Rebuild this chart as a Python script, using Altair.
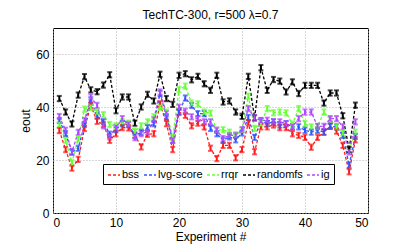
import altair as alt
import pandas as pd

experiments = list(range(1, 49))
bss = [31.2, 24.0, 17.0, 20.3, 32.0, 40.7, 34.7, 33.5, 27.5, 30.0,
       32.3, 32.2, 29.5, 25.0, 29.8, 30.0, 41.3, 33.8, 24.0, 38.2,
       37.0, 33.0, 34.0, 32.6, 24.5, 20.6, 25.6, 25.6, 20.9, 24.0,
       34.2, 23.2, 32.6, 32.6, 33.3, 32.3, 32.3, 30.0, 29.4, 28.6,
       24.9, 28.6, 30.6, 32.8, 31.0, 25.6, 15.6, 27.7]
lvg = [35.0, 30.0, 23.0, 24.5, 33.5, 42.8, 36.8, 34.5, 29.8, 31.5,
       33.8, 33.5, 29.3, 30.5, 32.3, 33.8, 45.2, 36.4, 27.5, 38.2,
       43.5, 40.7, 37.6, 37.6, 32.0, 30.0, 27.5, 28.8, 27.7, 30.3,
       36.1, 28.6, 34.9, 33.8, 34.5, 33.3, 33.8, 32.6, 32.6, 31.3,
       30.6, 31.3, 30.6, 32.8, 32.6, 29.4, 18.1, 29.0]
rrqr = [33.5, 27.5, 19.0, 28.0, 39.3, 40.0, 38.2, 37.2, 33.5, 33.0,
        34.5, 34.0, 31.0, 33.0, 34.5, 36.4, 40.0, 38.2, 28.6, 46.7,
        48.0, 41.6, 41.3, 38.2, 37.8, 31.3, 31.5, 30.6, 29.4, 31.3,
        44.2, 32.0, 33.8, 39.5, 37.9, 38.2, 37.9, 33.6, 39.5, 33.8,
        32.6, 32.6, 38.2, 35.4, 32.6, 30.3, 23.8, 30.6]
randomfs = [43.3, 38.2, 33.7, 44.6, 51.6, 46.6, 45.9, 48.4, 52.3, 38.7,
            43.9, 43.9, 34.0, 40.1, 44.9, 42.4, 52.5, 43.3, 41.1, 52.1,
            52.7, 50.4, 51.7, 48.9, 46.4, 52.1, 42.0, 42.4, 38.2, 36.6,
            51.7, 36.0, 55.0, 46.4, 50.5, 49.9, 45.8, 49.6, 45.2, 48.3,
            48.3, 48.3, 41.6, 45.4, 45.4, 36.8, 24.0, 40.8]
ig = [36.5, 31.3, 23.2, 30.5, 35.0, 43.9, 40.7, 33.0, 28.8, 32.3,
      35.7, 33.5, 28.5, 30.0, 30.6, 35.4, 45.8, 37.6, 27.5, 40.0,
      38.5, 36.4, 35.7, 34.5, 34.5, 31.3, 28.2, 29.4, 29.4, 31.5,
      39.5, 36.0, 35.0, 35.1, 34.5, 34.5, 33.8, 32.6, 35.7, 38.2,
      38.2, 32.8, 32.8, 35.7, 35.7, 32.6, 23.1, 34.5]

series_names = ["bss", "lvg-score", "rrqr", "randomfs", "ig"]
series_colors = ["#ff1a1a", "#2f55ff", "#66ff33", "#000000", "#b048ff"]
series_err = [1.0, 1.0, 1.0, 1.0, 1.0]
x_ticks = [0, 10, 20, 30, 40, 50]
y_ticks = [0, 20, 40, 60]

rows = []
for name, vals, e in zip(series_names, [bss, lvg, rrqr, randomfs, ig], series_err):
    for x, v in zip(experiments, vals):
        rows.append({"exp": x, "value": v, "series": name, "lo": v - e, "hi": v + e})
df = pd.DataFrame(rows)

color_scale = alt.Scale(domain=series_names, range=series_colors)
xenc = alt.X("exp:Q", scale=alt.Scale(domain=[0, 50], nice=False),
             axis=alt.Axis(values=x_ticks, title="Experiment #"))
yenc = alt.Y("value:Q", scale=alt.Scale(domain=[0, 70], nice=False),
             axis=alt.Axis(values=y_ticks, title="eout"))

lines = alt.Chart(df).mark_line(strokeDash=[3, 2], strokeWidth=1.3).encode(
    x=xenc, y=yenc,
    color=alt.Color("series:N", scale=color_scale, sort=series_names,
                    legend=alt.Legend(title=None, orient="none", legendX=50, legendY=136,
                                      direction="horizontal", symbolType="stroke",
                                      symbolSize=144, symbolDash=[3, 2], symbolStrokeWidth=1.5,
                                      labelFontSize=11, labelFont="Liberation Sans",
                                      labelOffset=1, columnPadding=1,
                                      strokeColor="black", fillColor="white", padding=4)),
    detail="series:N",
)

bars = alt.Chart(df).mark_errorbar(ticks=True, size=5, thickness=2).encode(
    x="exp:Q",
    y=alt.Y("lo:Q", title="eout"),
    y2="hi:Q",
    color=alt.Color("series:N", scale=color_scale, legend=None),
)

chart = alt.layer(lines, bars).properties(
    width=315, height=185,
    title=alt.TitleParams("TechTC-300, r=500 λ=0.7", fontSize=12, fontWeight="normal",
                          font="Liberation Sans", offset=6),
    autosize=alt.AutoSizeParams(type="none"),
    padding={"left": 45, "top": 20, "right": 20, "bottom": 32},
).configure_view(stroke="black", strokeWidth=1).configure_axis(
    grid=True, gridDash=[1, 2], gridColor="#b0b0b0", gridOpacity=1,
    domain=False, ticks=False, labelFont="Liberation Sans", labelFontSize=12,
    labelColor="black", titleFont="Liberation Sans", titleFontSize=12,
    titleFontWeight="normal", titleColor="black", labelPadding=4,
).configure_axisX(titlePadding=3).configure_axisY(titlePadding=3)

chart.save("out.html", embed_options={"renderer": "svg", "actions": False})
